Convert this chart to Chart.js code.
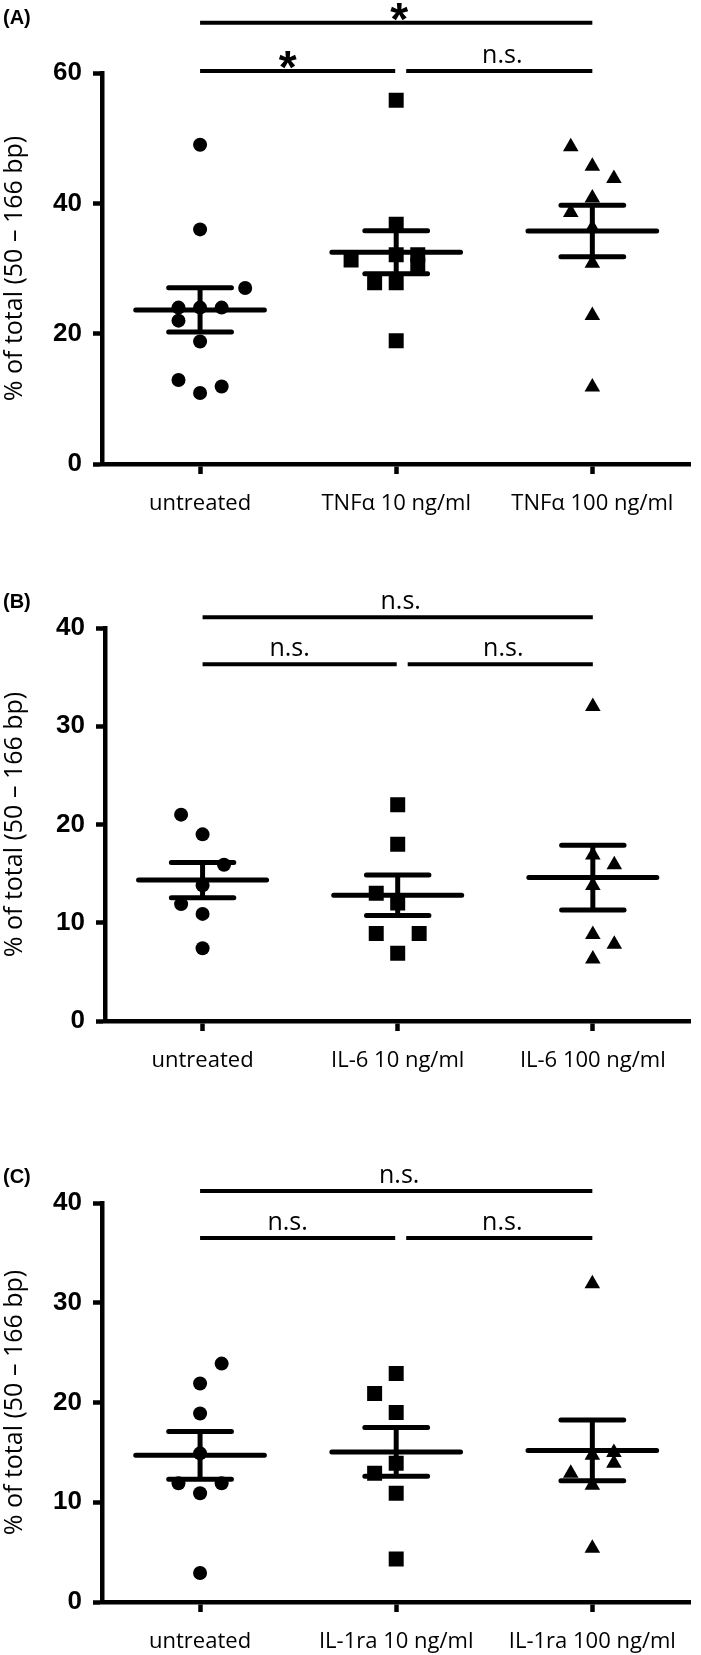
<!DOCTYPE html>
<html>
<head>
<meta charset="utf-8">
<script src="https://cdn.jsdelivr.net/npm/chart.js@4.4.0/dist/chart.umd.min.js"></script>
<style>
  body { margin: 0; background: #fff; }
  .panel { position: absolute; left: 0; width: 701px; }
</style>
</head>
<body>
<div class="panel" style="top:0;height:530px"><canvas id="chartA"></canvas></div>
<div class="panel" style="top:530px;height:545px"><canvas id="chartB"></canvas></div>
<div class="panel" style="top:1075px;height:580px"><canvas id="chartC"></canvas></div>
<script>
// (A) TNFα
var catsA = ['untreated', 'TNFα 10 ng/ml', 'TNFα 100 ng/ml'];
var valsA = [
  [49, 36, 27, 24, 24, 24, 22, 18.8, 12.9, 11.9, 10.9],
  [55.8, 36.8, 32.1, 31.3, 32.1, 30.5, 27.8, 27.8, 18.9],
  [48.7, 45.7, 43.8, 40.8, 38.6, 36.2, 30.8, 22.8, 11.8]
];
var dxA = [
  [0, 0, 0.23, -0.11, 0, 0.11, -0.11, 0, -0.11, 0.11, 0],
  [0, 0, 0, -0.23, 0.11, 0.11, -0.11, 0, 0],
  [-0.11, 0, 0.11, 0, -0.11, 0, 0, 0, 0]
];
var meansA = [23.65, 32.5, 35.75];
var semsA = [3.4, 3.3, 3.95];
var sigA = [[0, 2, 67.7, '*'], [0, 1, 60.3, '*'], [1, 2, 60.3, 'n.s.']];

// (B) IL-6
var catsB = ['untreated', 'IL-6 10 ng/ml', 'IL-6 100 ng/ml'];
var valsB = [
  [21.0, 19.0, 15.9, 13.8, 11.9, 10.9, 7.4],
  [22.0, 18.0, 13.0, 12.0, 8.9, 8.9, 6.9],
  [32.0, 16.9, 15.9, 13.8, 8.8, 7.8, 6.3]
];
var dxB = [
  [-0.11, 0, 0.11, 0, -0.11, 0, 0],
  [0, 0, -0.11, 0, -0.11, 0.11, 0],
  [0, 0, 0.11, 0, 0, 0.11, 0]
];
var meansB = [14.34, 12.8, 14.6];
var semsB = [1.8, 2.05, 3.3];
var sigB = [[0, 2, 41.1, 'n.s.'], [0, 1, 36.3, 'n.s.'], [1, 2, 36.3, 'n.s.']];

// (C) IL-1ra
var catsC = ['untreated', 'IL-1ra 10 ng/ml', 'IL-1ra 100 ng/ml'];
var valsC = [
  [23.9, 21.9, 18.9, 14.9, 11.9, 11.9, 10.9, 2.9],
  [22.9, 20.9, 19.0, 13.9, 12.9, 10.9, 4.3],
  [31.9, 15.0, 14.7, 13.9, 12.9, 11.7, 5.4]
];
var dxC = [
  [0.11, 0, 0, 0, -0.11, 0.11, 0, 0],
  [0, -0.11, 0, 0, -0.11, 0, 0],
  [0, 0.11, 0, 0.11, -0.11, 0, 0]
];
var meansC = [14.7, 15.05, 15.2];
var semsC = [2.4, 2.45, 3.05];
var sigC = [[0, 2, 41.2, 'n.s.'], [0, 1, 36.5, 'n.s.'], [1, 2, 36.5, 'n.s.']];

var yTitle = '% of total (50 – 166 bp)';

var MEAN_HALF = 0.328;
var CAP_HALF = 0.16;
var labelFont = '"Open Sans", "DejaVu Sans", sans-serif';
var boldFont = '"Liberation Sans", Arial, sans-serif';

// draws panel letter and significance bars above the groups
var sigPlugin = {
  id: 'sigBrackets',
  afterDraw: function (chart, args, opts) {
    var ctx = chart.ctx, xs = chart.scales.x, ys = chart.scales.y;
    ctx.save();
    ctx.fillStyle = '#000';
    ctx.strokeStyle = '#000';
    ctx.textAlign = 'left';
    ctx.textBaseline = 'alphabetic';
    ctx.font = 'bold 20px ' + boldFont;
    ctx.fillText(opts.letter, 3, opts.letterY);

    ctx.lineWidth = 4;
    ctx.lineCap = 'butt';
    ctx.textAlign = 'center';
    opts.pairs.forEach(function (p) {
      var x0 = xs.getPixelForValue(p[0]);
      var x1 = xs.getPixelForValue(p[1]);
      if (p[1] === 1) x1 -= 1;
      if (p[0] === 1) x0 += 10;
      var y = ys.getPixelForValue(p[2]);
      ctx.beginPath();
      ctx.moveTo(x0, y);
      ctx.lineTo(x1, y);
      ctx.stroke();
      var tx = (x0 + x1) / 2 + (p[1] === 1 ? -10 : 3);
      if (p[3] === '*') {
        ctx.font = 'bold 46px ' + boldFont;
        ctx.fillText(p[3], tx, y + 12);
      } else {
        ctx.font = '25px ' + labelFont;
        ctx.fillText(p[3], tx, y - 8);
      }
    });
    ctx.restore();
  }
};

function buildPanel(id, cats, vals, dx, means, sems, yMax, yStep, sig, frame) {
  var styles = ['circle', 'rect', 'triangle'];
  var radii = [7, 10.6, 9];
  var datasets = vals.map(function (grp, i) {
    return {
      data: grp.map(function (v, k) { return {x: i + dx[i][k], y: v}; }),
      pointStyle: styles[i],
      pointRadius: radii[i],
      pointHoverRadius: radii[i],
      backgroundColor: '#000',
      borderColor: '#000',
      pointBorderWidth: 0,
      showLine: false
    };
  });

  // mean line plus SEM whiskers, one segmented line
  var pts = [];
  means.forEach(function (m, i) {
    var hi = m + sems[i], lo = m - sems[i];
    pts.push({x: i - MEAN_HALF, y: m}, {x: i + MEAN_HALF, y: m}, {x: i, y: null});
    pts.push({x: i - CAP_HALF, y: hi}, {x: i + CAP_HALF, y: hi}, {x: i, y: null});
    pts.push({x: i - CAP_HALF, y: lo}, {x: i + CAP_HALF, y: lo}, {x: i, y: null});
    pts.push({x: i, y: lo}, {x: i, y: hi}, {x: i, y: null});
  });
  datasets.push({
    data: pts,
    showLine: true,
    spanGaps: false,
    pointRadius: 0,
    borderColor: '#000',
    borderWidth: 5,
    borderCapStyle: 'round',
    fill: false
  });

  var gridOpts = function (len) {
    return {drawOnChartArea: false, drawTicks: true, tickLength: len, tickWidth: 4.5, tickColor: '#000', color: '#000'};
  };

  return new Chart(document.getElementById(id), {
    type: 'scatter',
    data: {datasets: datasets},
    options: {
      responsive: true,
      maintainAspectRatio: false,
      animation: false,
      layout: {padding: {top: frame.top, right: frame.right, left: 0, bottom: 0}},
      plugins: {
        legend: {display: false},
        tooltip: {enabled: false},
        sigBrackets: {pairs: sig, letter: frame.letter, letterY: frame.letterY}
      },
      scales: {
        x: {
          type: 'linear',
          min: -0.5,
          max: 2.5,
          afterBuildTicks: function (s) {
            s.ticks = cats.map(function (c, i) { return {value: i}; });
          },
          afterFit: function (s) { s.height = frame.xh; },
          ticks: {
            callback: function (v) { return cats[v]; },
            maxRotation: 0,
            autoSkip: false,
            padding: 17,
            color: '#000',
            font: {family: labelFont, size: 22}
          },
          grid: gridOpts(10),
          border: {display: true, color: '#000', width: 4.5}
        },
        y: {
          min: 0,
          max: yMax,
          afterFit: function (s) { s.width = frame.left; },
          ticks: {
            stepSize: yStep,
            padding: 11,
            color: '#000',
            font: {family: boldFont, size: 26, weight: 'bold'}
          },
          grid: gridOpts(9),
          border: {display: true, color: '#000', width: 4.5},
          title: {
            display: true,
            text: yTitle,
            color: '#000',
            font: {family: labelFont, size: 25},
            padding: {top: 0, bottom: 0}
          }
        }
      }
    },
    plugins: [sigPlugin]
  });
}

buildPanel('chartA', catsA, valsA, dxA, meansA, semsA, 60, 20, sigA,
  {top: 73, right: 9, left: 102, xh: 66, letter: '(A)', letterY: 24});
buildPanel('chartB', catsB, valsB, dxB, meansB, semsB, 40, 10, sigB,
  {top: 98, right: 3, left: 105, xh: 54, letter: '(B)', letterY: 77.5});
buildPanel('chartC', catsC, valsC, dxC, meansC, semsC, 40, 10, sigC,
  {top: 128, right: 4, left: 102, xh: 53, letter: '(C)', letterY: 107.5});
</script>
</body>
</html>
